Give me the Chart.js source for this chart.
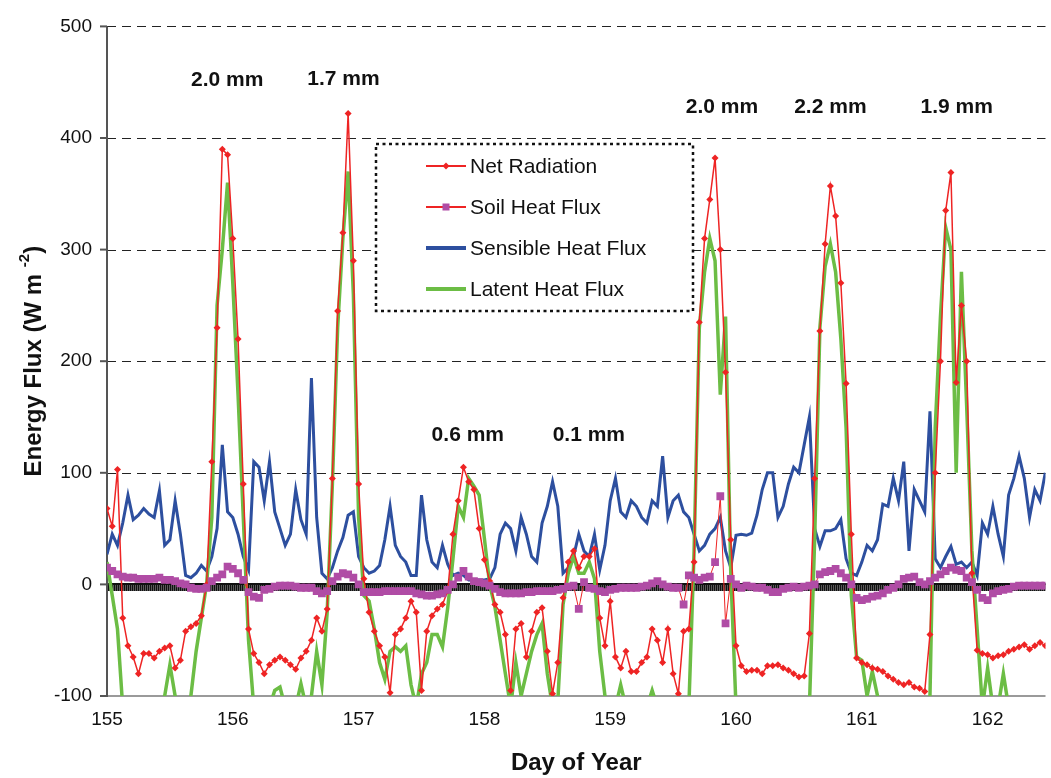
<!DOCTYPE html>
<html>
<head>
<meta charset="utf-8">
<script src="https://cdn.jsdelivr.net/npm/chart.js@4.4.1/dist/chart.umd.min.js"></script>
<style>
  html, body { margin: 0; padding: 0; background: #fff; }
  canvas { display: block; }
</style>
</head>
<body>
<canvas id="fluxChart" width="1051" height="778"></canvas>
<script>
// hourly readings, first one at day 155.0
const startDay = 155;
const readingsPerDay = 24;

// W m-2, one row per day
const netRadiation = [
  68, 52, 103, -30, -55, -65, -80, -62, -62, -66, -60, -57, -55, -75, -68, -42, -38, -35, -28, 0, 110, 230, 390, 385,
  310, 220, 90, -40, -62, -70, -80, -72, -68, -65, -68, -72, -76, -66, -60, -50, -30, -42, -22, 95, 245, 315, 422, 290,
  90, 5, -25, -42, -55, -65, -97, -45, -40, -30, -15, -25, -95, -42, -28, -22, -18, -6, 45, 75, 105, 92, 85, 50,
  22, 3, -18, -25, -45, -95, -40, -35, -65, -42, -25, -21, -60, -98, -70, -12, 20, 30, 15, 25, 25, 32, -30, -55,
  -15, -65, -75, -60, -78, -78, -70, -65, -40, -50, -70, -40, -80, -98, -42, -40, 20, 235, 310, 345, 382, 300, 190, 40,
  -55, -73, -78, -77, -77, -80, -73, -73, -72, -75, -77, -80, -83, -82, -44, 95, 227, 305, 357, 330, 270, 180, 45, -66,
  -70, -72, -75, -76, -78, -82, -85, -88, -90, -88, -92, -93, -96, -45, 100, 200, 335, 369, 181, 250, 200, 10, -59, -62,
  -63, -66, -64, -63, -60, -58, -56, -54, -58, -55, -52, -55
];

const soilHeatFlux = [
  15, 12, 9, 7, 6, 6, 5, 5, 5, 5, 6, 4, 4, 3, 1, 0, -3, -4, -4, -3, 3, 6, 9, 16,
  14, 10, 4, -7, -11, -12, -5, -4, -2, -1, -1, -1, -2, -3, -3, -3, -6, -8, -6, 3, 7, 10, 9, 6,
  0, -7, -7, -7, -7, -6, -6, -6, -6, -6, -6, -8, -9, -10, -10, -9, -8, -5, 0, 6, 12, 7, 3, 2,
  1, -1, -4, -7, -8, -8, -8, -8, -7, -7, -6, -6, -6, -6, -5, -4, -2, -1, -22, 2, -3, -4, -6, -7,
  -5, -4, -3, -3, -3, -3, -2, -1, 1, 3, 0, -2, -3, -3, -18, 8, 6, 4, 6, 7, 20, 79, -35, 5,
  0, -3, -1, -2, -3, -3, -5, -7, -7, -4, -3, -2, -3, -2, -1, 0, 9, 11, 12, 14, 10, 6, 0, -12,
  -14, -13, -11, -10, -8, -5, -3, 0, 5, 6, 7, 2, 0, 3, 6, 9, 12, 15, 13, 12, 6, 2, -5, -12,
  -14, -8, -6, -5, -4, -2, -1, -1, -1, -1, -1, -1
];

const sensibleHeatFlux = [
  27, 45, 35, 55, 80, 58, 62, 68, 63, 60, 84, 35, 40, 75, 45, 8, 6, 10, 17, 12, 25, 50, 125, 65,
  60, 45, 25, 13, 110, 105, 75, 110, 65, 50, 35, 45, 85, 58, 45, 185, 60, 10, 5, 15, 30, 42, 62, 65,
  25, 15, 10, 12, 17, 40, 70, 35, 25, 20, 8, 8, 80, 40, 20, 15, 35, 18, 8, 10, 8, 4, 4, 4,
  4, 5, 15, 45, 55, 50, 30, 60, 45, 25, 20, 55, 70, 92, 70, 10, 15, 25, 45, 30, 25, 45, 13, 35,
  75, 95, 65, 60, 75, 70, 60, 55, 75, 70, 115, 60, 75, 80, 65, 60, 45, 30, 35, 45, 50, 60, 30, 15,
  44, 45, 44, 46, 62, 85, 100, 100, 60, 70, 90, 105, 100, 125, 150, 50, 34, 48, 48, 50, 58, 23, 10, 8,
  20, 35, 30, 40, 72, 70, 95, 75, 110, 30, 85, 75, 65, 155, 23, 15, 25, 34, 18, 20, 15, 20, 8, 55,
  45, 70, 45, 25, 80, 95, 115, 95, 60, 85, 75, 100
];

// values below -100 run off the bottom of the plot, as in the original
const latentHeatFlux = [
  20, -10, -40, -110, -105, -110, -110, -110, -110, -110, -110, -100, -72, -100, -110, -110, -100, -60, -30, 0, 60, 250, 300, 360,
  270, 170, 60, -50, -110, -110, -110, -110, -95, -92, -110, -110, -110, -89, -110, -100, -60, -90, -25, 90, 230, 310, 370, 260,
  60, -10, -15, -40, -70, -85, -60, -56, -60, -55, -90, -110, -80, -70, -45, -45, -56, -21, 23, 70, 60, 95, 88, 80,
  41, 0, -20, -50, -80, -110, -70, -100, -80, -60, -45, -35, -80, -110, -105, -18, 10, 25, 10, 10, 20, 5, -60, -100,
  -110, -110, -90, -110, -110, -110, -110, -110, -95, -110, -110, -110, -110, -110, -110, -110, 30, 230, 280, 310, 290, 170, 240, 10,
  -110, -110, -110, -110, -110, -110, -110, -110, -110, -110, -110, -110, -110, -110, -110, 40, 230, 285, 305, 280, 220, 140, -10, -65,
  -68, -100, -78, -100, -110, -110, -110, -110, -110, -110, -110, -110, -110, -100, 140, 240, 320, 300, 100, 280, 160, 30, -40, -110,
  -75, -110, -110, -80, -110, -110, -110, -110, -110, -110, -110, -110
];

const dayTicks = [155, 156, 157, 158, 159, 160, 161, 162];
const fluxTicks = [-100, 0, 100, 200, 300, 400, 500];
const rainfall = ['2.0 mm', '1.7 mm', '0.6 mm', '0.1 mm', '2.0 mm', '2.2 mm', '1.9 mm'];

// where each rainfall note sits, in axis units (day, flux)
const rainSpots = [[155.956, 452], [156.88, 453], [157.868, 134], [158.83, 134], [159.888, 428], [160.75, 428], [161.754, 428]];

const RED = '#ee2424';
const PURPLE = '#b04ca5';
const BLUE = '#2d4f9f';
const GREEN = '#6cbd45';
const FONT = "'Liberation Sans', Arial, Helvetica, sans-serif";

const toPoints = vals => vals.map((v, i) => ({ x: startDay + i / readingsPerDay, y: v }));

function line(ctx, x1, y1, x2, y2) {
  ctx.beginPath();
  ctx.moveTo(x1, y1);
  ctx.lineTo(x2, y2);
  ctx.stroke();
}

const frame = {
  id: 'frame',
  beforeDatasetsDraw(chart) {
    const { ctx, chartArea: a, scales: { y } } = chart;
    ctx.save();

    // dashed grid
    ctx.setLineDash([9, 6]);
    ctx.strokeStyle = '#222';
    ctx.lineWidth = 1;
    fluxTicks.filter(v => v > 0).forEach(v => {
      const py = Math.round(y.getPixelForValue(v)) + 0.5;
      line(ctx, a.left, py, a.right, py);
    });
    ctx.setLineDash([]);

    // bottom axis
    const yb = y.getPixelForValue(-100);
    ctx.strokeStyle = '#9a9a9a';
    ctx.lineWidth = 2;
    line(ctx, a.left, yb, a.right, yb);

    // zero line with its dense hatch of tick marks
    const y0 = Math.round(y.getPixelForValue(0));
    ctx.fillStyle = '#5a5a5a';
    ctx.fillRect(a.left, y0, a.right - a.left, 7);
    ctx.strokeStyle = '#111';
    ctx.lineWidth = 1;
    for (let px = a.left + 1.5; px < a.right; px += 2) {
      line(ctx, px, y0, px, y0 + 7);
    }
    ctx.lineWidth = 2;
    line(ctx, a.left, y0, a.right, y0);

    // left axis + outside ticks
    ctx.strokeStyle = '#555';
    ctx.lineWidth = 2;
    line(ctx, a.left, a.top, a.left, a.bottom + 1);
    fluxTicks.forEach(v => {
      const py = y.getPixelForValue(v);
      line(ctx, a.left - 7, py, a.left, py);
    });
    ctx.restore();
  },

  afterDatasetsDraw(chart) {
    const { ctx, scales: { x, y } } = chart;
    ctx.save();

    // legend box
    const bx = 376, by = 144, bw = 317, bh = 167;
    ctx.fillStyle = '#fff';
    ctx.fillRect(bx, by, bw, bh);
    ctx.setLineDash([3, 3.5]);
    ctx.strokeStyle = '#111';
    ctx.lineWidth = 2.5;
    ctx.strokeRect(bx, by, bw, bh);
    ctx.setLineDash([]);

    const items = [
      { text: 'Net Radiation', color: RED, width: 2, marker: 'diamond' },
      { text: 'Soil Heat Flux', color: RED, width: 2, marker: 'square' },
      { text: 'Sensible Heat Flux', color: BLUE, width: 4 },
      { text: 'Latent Heat Flux', color: GREEN, width: 4 }
    ];
    const rows = [166, 207, 248, 289];
    items.forEach((it, i) => {
      const ry = rows[i];
      ctx.strokeStyle = it.color;
      ctx.lineWidth = it.width;
      line(ctx, 426, ry, 466, ry);
      if (it.marker === 'diamond') {
        ctx.fillStyle = RED;
        ctx.beginPath();
        ctx.moveTo(446, ry - 3.5);
        ctx.lineTo(449.5, ry);
        ctx.lineTo(446, ry + 3.5);
        ctx.lineTo(442.5, ry);
        ctx.closePath();
        ctx.fill();
      } else if (it.marker === 'square') {
        ctx.fillStyle = PURPLE;
        ctx.fillRect(442.5, ry - 3.5, 7, 7);
      }
      ctx.fillStyle = '#111';
      ctx.font = '21px ' + FONT;
      ctx.textAlign = 'left';
      ctx.textBaseline = 'middle';
      ctx.fillText(it.text, 470, ry + 1);
    });

    // rainfall notes
    ctx.font = 'bold 21px ' + FONT;
    ctx.textAlign = 'center';
    ctx.textBaseline = 'middle';
    ctx.fillStyle = '#111';
    rainfall.forEach((t, i) => {
      ctx.fillText(t, x.getPixelForValue(rainSpots[i][0]), y.getPixelForValue(rainSpots[i][1]));
    });

    // y title with superscript
    const main = 'Energy Flux (W m ';
    const sup = '-2';
    const tail = ')';
    ctx.translate(34, (chart.chartArea.top + chart.chartArea.bottom) / 2);
    ctx.rotate(-Math.PI / 2);
    ctx.font = 'bold 24px ' + FONT;
    const w1 = ctx.measureText(main).width;
    const w3 = ctx.measureText(tail).width;
    ctx.font = 'bold 15px ' + FONT;
    const w2 = ctx.measureText(sup).width;
    const sx = -(w1 + w2 + w3) / 2;
    ctx.textAlign = 'left';
    ctx.font = 'bold 24px ' + FONT;
    ctx.fillText(main, sx, 0);
    ctx.font = 'bold 15px ' + FONT;
    ctx.fillText(sup, sx + w1, -9);
    ctx.font = 'bold 24px ' + FONT;
    ctx.fillText(tail, sx + w1 + w2, 0);
    ctx.restore();
  }
};

new Chart(document.getElementById('fluxChart'), {
  type: 'line',
  data: {
    datasets: [
      {
        label: 'Soil Heat Flux',
        data: toPoints(soilHeatFlux),
        borderColor: RED,
        borderWidth: 1,
        pointStyle: 'rect',
        pointRadius: 5.5,
        pointBackgroundColor: PURPLE,
        pointBorderWidth: 0
      },
      {
        label: 'Net Radiation',
        data: toPoints(netRadiation),
        borderColor: RED,
        borderWidth: 1.5,
        pointStyle: 'rectRot',
        pointRadius: 3.5,
        pointBackgroundColor: RED,
        pointBorderWidth: 0
      },
      {
        label: 'Latent Heat Flux',
        data: toPoints(latentHeatFlux),
        borderColor: GREEN,
        borderWidth: 3.5,
        pointRadius: 0
      },
      {
        label: 'Sensible Heat Flux',
        data: toPoints(sensibleHeatFlux),
        borderColor: BLUE,
        borderWidth: 3,
        pointRadius: 0
      }
    ]
  },
  options: {
    responsive: false,
    animation: false,
    events: [],
    layout: { padding: { top: 20, right: 0, bottom: 0, left: 0 } },
    plugins: { legend: { display: false }, tooltip: { enabled: false } },
    scales: {
      x: {
        type: 'linear',
        min: 155,
        max: 162.46,
        grid: { display: false, drawTicks: false },
        border: { display: false },
        ticks: {
          stepSize: 1,
          includeBounds: false,
          autoSkip: false,
          maxRotation: 0,
          padding: 12,
          color: '#111',
          font: { family: FONT, size: 19 },
          callback: v => dayTicks.includes(v) ? String(v) : ''
        },
        title: {
          display: true,
          text: 'Day of Year',
          color: '#111',
          font: { family: FONT, size: 24, weight: 'bold' },
          padding: { top: 0, bottom: 0 }
        },
        afterFit: s => { s.height = 82; }
      },
      y: {
        min: -100,
        max: 500,
        grid: { display: false, drawTicks: false },
        border: { display: false },
        ticks: {
          stepSize: 100,
          padding: 15,
          color: '#111',
          font: { family: FONT, size: 19 }
        },
        afterFit: s => { s.width = 107; }
      }
    }
  },
  plugins: [frame]
});
</script>
</body>
</html>
